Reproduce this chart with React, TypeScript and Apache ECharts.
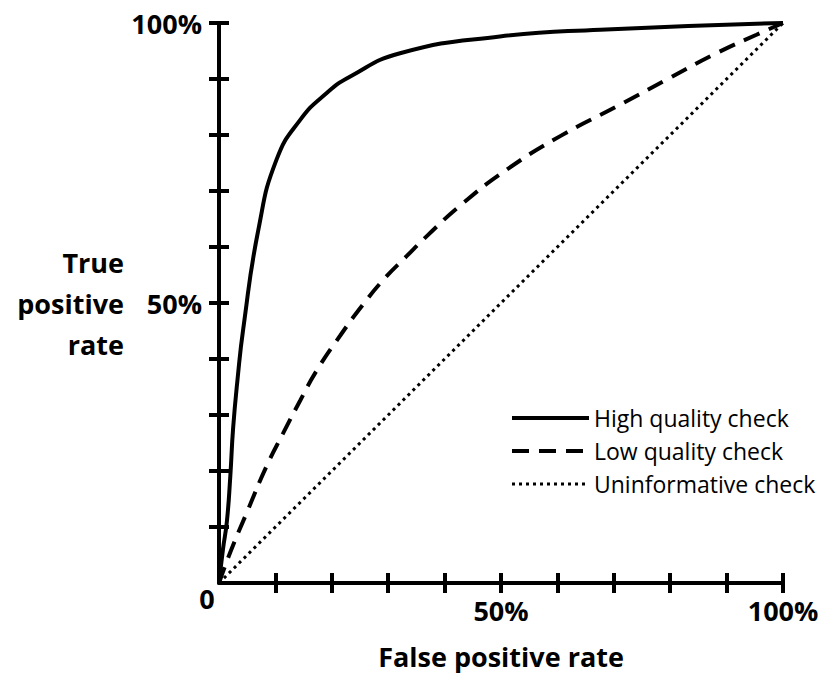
import React, { useEffect, useRef } from "react";
import * as echarts from "echarts";

const seriesNames = ["High quality check", "Low quality check", "Uninformative check"];

const highFpr = [0, 0.7, 1.4, 2.0, 2.5, 3.3, 4.3, 7.0, 10.2, 14.4, 19.1, 23.2, 32.1, 49.8, 67.6, 100];
const highTpr = [0, 6.0, 11.0, 19.0, 27.6, 36.5, 45.4, 63.2, 75.6, 82.7, 87.5, 90.4, 94.6, 97.6, 98.8, 100];

const lowFpr = [0, 2.0, 4.9, 8.5, 11.4, 14.4, 17.3, 21.5, 25.6, 29.1, 33.3, 36.8, 43.0, 51.0, 60.5, 70.5, 79.4, 88.2, 95.3, 100];
const lowTpr = [0, 5.5, 12.5, 21.0, 26.8, 32.6, 37.9, 44.2, 49.8, 54.1, 58.4, 61.9, 67.6, 73.8, 79.8, 85.1, 89.9, 94.6, 97.9, 100];

const noneFpr = [0, 100];
const noneTpr = [0, 100];

const tickValues = [10, 20, 30, 40, 50, 60, 70, 80, 90, 100];
const labelValues = [50, 100];
const originLabel = "0";
const xTitle = "False positive rate";
const yTitle = "True\npositive\nrate";

const FONT = "'Open Sans', 'Noto Sans', sans-serif";

function pairs(xs: number[], ys: number[]) {
  return xs.map((x, i) => [x, ys[i]]);
}

export default function App() {
  const ref = useRef<HTMLDivElement>(null);
  useEffect(() => {
    if (!ref.current) return;
    const chart = echarts.init(ref.current, null, { renderer: "svg" });
    const labelStyle = {
      color: "#000",
      fontFamily: FONT,
      fontWeight: "bold" as const,
      fontSize: 27,
    };
    const baseAxis = {
      type: "value" as const,
      min: 0,
      max: 100,
      interval: 10,
      splitLine: { show: false },
    };
    const solidStyle = { color: "#000", width: 4, type: "solid" as const };
    const dashStyle = { color: "#000", width: 4, type: [17, 10] };
    const dotStyle = { color: "#000", width: 3, type: [3, 4] };
    chart.setOption({
      animation: false,
      backgroundColor: "#fff",
      grid: { left: 219, right: 46, top: 23, bottom: 90, containLabel: false },
      xAxis: [
        {
          ...baseAxis,
          position: "bottom",
          name: xTitle,
          nameLocation: "middle",
          nameGap: 60,
          nameTextStyle: { ...labelStyle },
          axisLine: { show: true, lineStyle: { color: "#000", width: 4 } },
          axisTick: { show: true, length: 10, inside: false, customValues: tickValues, lineStyle: { color: "#000", width: 4 } },
          axisLabel: { ...labelStyle, margin: 14, customValues: labelValues, formatter: (v: number) => v + "%" },
        },
        {
          ...baseAxis,
          position: "bottom",
          axisLine: { show: false },
          axisTick: { show: true, length: 10, inside: true, customValues: tickValues, lineStyle: { color: "#000", width: 4 } },
          axisLabel: { show: false },
        },
      ],
      yAxis: [
        {
          ...baseAxis,
          position: "left",
          name: yTitle,
          nameLocation: "middle",
          nameRotate: 0,
          nameGap: 95,
          nameTextStyle: { ...labelStyle, align: "right", lineHeight: 41 },
          axisLine: { show: true, lineStyle: { color: "#000", width: 4 } },
          axisTick: { show: true, length: 10, inside: false, customValues: tickValues, lineStyle: { color: "#000", width: 4 } },
          axisLabel: { ...labelStyle, margin: 17, customValues: labelValues, formatter: (v: number) => v + "%" },
        },
        {
          ...baseAxis,
          position: "left",
          axisLine: { show: false },
          axisTick: { show: true, length: 10, inside: true, customValues: tickValues, lineStyle: { color: "#000", width: 4 } },
          axisLabel: { show: false },
        },
      ],
      legend: {
        orient: "vertical",
        left: 505,
        top: 400,
        itemWidth: 77,
        itemHeight: 14,
        itemGap: 7,
        itemStyle: { opacity: 0 },
        textStyle: { color: "#000", fontFamily: FONT, fontSize: 23, lineHeight: 26 },
        data: [
          { name: seriesNames[0], lineStyle: solidStyle, itemStyle: { opacity: 0 } },
          { name: seriesNames[1], lineStyle: dashStyle, itemStyle: { opacity: 0 } },
          { name: seriesNames[2], lineStyle: dotStyle, itemStyle: { opacity: 0 } },
        ],
      },
      graphic: [
        {
          type: "text",
          x: 207,
          y: 598,
          style: {
            text: originLabel,
            fill: "#000",
            font: `bold 27px ${FONT}`,
            textAlign: "center",
            textVerticalAlign: "middle",
          },
        },
      ],
      series: [
        {
          name: seriesNames[0],
          type: "line",
          data: pairs(highFpr, highTpr),
          symbol: "none",
          smooth: 0.5,
          lineStyle: solidStyle,
          itemStyle: { color: "#000" },
          z: 3,
        },
        {
          name: seriesNames[1],
          type: "line",
          data: pairs(lowFpr, lowTpr),
          symbol: "none",
          smooth: 0.5,
          lineStyle: dashStyle,
          itemStyle: { color: "#000" },
          z: 3,
        },
        {
          name: seriesNames[2],
          type: "line",
          data: pairs(noneFpr, noneTpr),
          symbol: "none",
          lineStyle: dotStyle,
          itemStyle: { color: "#000" },
          z: 3,
        },
      ],
    });
    return () => chart.dispose();
  }, []);
  return (
    <div
      ref={ref}
      style={{ position: "fixed", left: 0, top: 0, width: 829, height: 675, background: "#fff" }}
    />
  );
}
